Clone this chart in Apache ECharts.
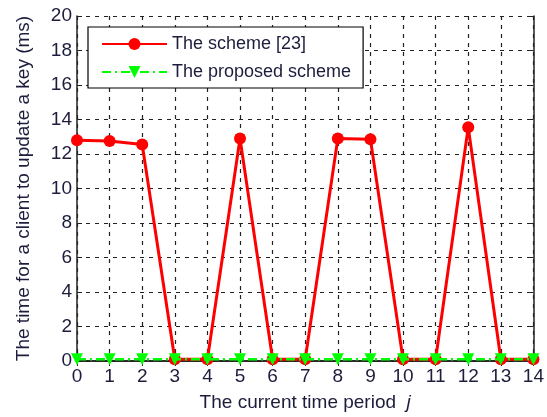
<!DOCTYPE html>
<html><head><meta charset="utf-8">
<script src="https://cdn.jsdelivr.net/npm/echarts@6/dist/echarts.min.js"></script>
<style>html,body{margin:0;padding:0;background:#fff}#c{width:547px;height:417px}</style>
</head><body><div id="c"></div>
<script>
const categories = ['0','1','2','3','4','5','6','7','8','9','10','11','12','13','14'];
const schemeValues = [12.8, 12.75, 12.55, 0.1, 0.1, 12.9, 0.1, 0.1, 12.9, 12.85, 0.1, 0.1, 13.55, 0.1, 0.1];
const proposedValues = [0.1, 0.1, 0.1, 0.1, 0.1, 0.1, 0.1, 0.1, 0.1, 0.1, 0.1, 0.1, 0.1, 0.1, 0.1];
const seriesNames = ['The scheme [23]', 'The proposed scheme'];

const txt = '#1c1c3c';
const font = 'Arial, "Liberation Sans", sans-serif';
const chart = echarts.init(document.getElementById('c'));
chart.setOption({
  animation: false,
  grid: {left: 77, right: 9, top: 16, bottom: 56},
  legend: {
    orient: 'vertical', left: 88, top: 27,
    itemWidth: 65, itemHeight: 15, itemGap: 10,
    padding: [8, 12, 7, 13],
    borderColor: '#000', borderWidth: 1.2, backgroundColor: '#fff',
    textStyle: {fontFamily: font, fontSize: 18, color: txt},
    data: seriesNames
  },
  xAxis: [{
    type: 'category', data: categories, boundaryGap: false,
    name: 'The current time period  {i|j}', nameLocation: 'middle', nameGap: 32,
    nameTextStyle: {fontFamily: font, fontSize: 19, color: txt, rich: {i: {fontStyle: 'italic', fontFamily: font, fontSize: 19, color: txt}}},
    axisLine: {lineStyle: {color: '#222', width: 1.5}},
    axisTick: {inside: true, length: 5, alignWithLabel: true, lineStyle: {color: '#222'}},
    axisLabel: {fontFamily: font, fontSize: 19, color: txt, margin: 6, interval: 0},
    splitLine: {show: true, lineStyle: {color: '#222', type: [4, 5], width: 1.2}}
  }, {
    type: 'category', data: categories, boundaryGap: false, position: 'top',
    axisLine: {show: true, lineStyle: {color: '#222', width: 1.5}},
    axisTick: {inside: true, length: 5, lineStyle: {color: '#222'}},
    axisLabel: {show: false}, splitLine: {show: false}
  }],
  yAxis: [{
    type: 'value', min: 0, max: 20, interval: 2,
    name: 'The time for a client to update a key (ms)', nameLocation: 'middle', nameGap: 44,
    nameTextStyle: {fontFamily: font, fontSize: 19, color: txt},
    axisLine: {show: true, lineStyle: {color: '#222', width: 1.5}},
    axisTick: {show: true, inside: true, length: 5, lineStyle: {color: '#222'}},
    axisLabel: {fontFamily: font, fontSize: 19, color: txt, margin: 5},
    splitLine: {show: true, lineStyle: {color: '#222', type: [4, 5], width: 1.2}}
  }, {
    type: 'value', min: 0, max: 20, interval: 2, position: 'right',
    axisLine: {show: true, lineStyle: {color: '#222', width: 1.5}},
    axisTick: {show: true, inside: true, length: 5, lineStyle: {color: '#222'}},
    axisLabel: {show: false}, splitLine: {show: false}
  }],
  series: [{
    name: seriesNames[0], type: 'line', data: schemeValues,
    symbol: 'circle', symbolSize: 12, showAllSymbol: true,
    itemStyle: {color: '#ff0000'},
    lineStyle: {color: '#ff0000', width: 3},
    z: 2
  }, {
    name: seriesNames[1], type: 'line', data: proposedValues,
    symbol: 'triangle', symbolSize: 12, symbolRotate: 180, showAllSymbol: true,
    itemStyle: {color: '#00ff00'},
    lineStyle: {color: '#00ff00', width: 2.5, type: [9, 4, 2, 4]},
    z: 3
  }]
});
</script></body></html>
